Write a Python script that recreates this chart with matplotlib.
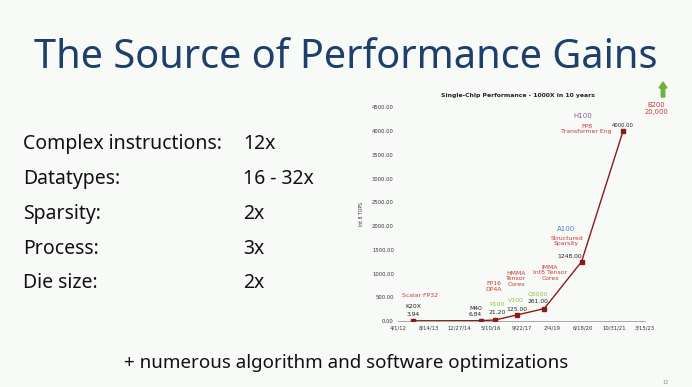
import matplotlib
matplotlib.use("Agg")
from matplotlib import pyplot as plt
import matplotlib.dates as mdates
import pandas as pd

# left-hand list on the slide
gain_names = ["Complex instructions:", "Datatypes:", "Sparsity:", "Process:", "Die size:"]
gain_values = ["12x", "16 - 32x", "2x", "3x", "2x"]

# chart series (Int8 TOPS per chip)
chips = ["K20X", "M40", "P100", "V100", "Q8000", "A100", "H100"]
launch = ["2012-11-29", "2015-11-30", "2016-07-20", "2017-07-05", "2018-09-25", "2020-05-21", "2022-03-25"]
tops = [3.94, 6.84, 21.20, 125.00, 261.00, 1248.00, 4000.00]
value_labels = ["3.94", "6.84", "21.20", "125.00", "261.00", "1248.00", "4000.00"]
feature_labels = ["Scalar FP32", "", "FP16\nDP4A", "HMMA\nTensor\nCores", "IMMA\nInt8 Tensor\nCores",
                  "Structured\nSparsity", "FP8\nTransformer Eng"]
tick_dates = pd.date_range("2012-04-01", periods=9, freq="500D")
y_ticks = list(range(0, 5000, 500))

BG = "#f8faf8"
RED = "#c43a3a"
GREEN = "#8cc43c"
LINE = "#8b1a1a"

fig = plt.figure(figsize=(6.92, 3.87), dpi=100)
fig.patch.set_facecolor(BG)

fig.text(0.5, 1 - 68 / 387, "The Source of Performance Gains", ha="center", va="baseline",
         fontsize=28.6, color="#1e3f6b", family="Noto Sans")

for i, (name, val) in enumerate(zip(gain_names, gain_values)):
    yb = 1 - (149.3 + i * 34.75) / 387
    fig.text(23 / 692, yb, name, ha="left", va="baseline", fontsize=14, color="#111111", family="Noto Sans")
    fig.text(243 / 692, yb, val, ha="left", va="baseline", fontsize=14, color="#111111", family="Noto Sans")

fig.text(0.5, 1 - 368 / 387, "+ numerous algorithm and software optimizations", ha="center", va="baseline",
         fontsize=13.5, color="#111111", family="Noto Sans")
fig.text(666 / 692, 1 - 383 / 387, "12", ha="center", va="center", fontsize=3.5, color="#888888")

# chart
ax = fig.add_axes([398 / 692, 1 - 321 / 387, 247 / 692, 213.7 / 387])
ax.set_facecolor(BG)
x = mdates.date2num(pd.to_datetime(launch))
ax.plot(x, tops, color=LINE, lw=1.0, marker="s", ms=2.2, zorder=3)

xt = mdates.date2num(tick_dates)
ax.set_xlim(xt[0], xt[-1])
ax.set_ylim(0, 4500)
ax.set_xticks(xt)
ax.set_xticklabels([f"{d.month}/{d.day}/{d.year % 100:02d}" for d in tick_dates])
ax.set_yticks(y_ticks)
ax.set_yticklabels([f"{v:.2f}" for v in y_ticks])
ax.tick_params(length=0, labelsize=3.8, labelcolor="#333333", pad=3)
for s in ["top", "right", "left"]:
    ax.spines[s].set_visible(False)
ax.spines["bottom"].set_color("#9a9a9a")
ax.spines["bottom"].set_linewidth(0.6)
ax.set_ylabel("Int 8 TOPS", fontsize=3.3, color="#333333", labelpad=6)

fig.text(518 / 692, 1 - 96 / 387, "Single-Chip Performance - 1000X in 10 years", ha="center", va="center",
         fontsize=4.4, fontweight="bold", color="#222222")

# pixel offsets of labels from their points: value, chip name, feature
val_off = [(0, 6), (-5, 6.4), (1.7, 7.7), (0, 5.8), (-6, 6.9), (-11.7, 5.7), (0, 5.4)]
chip_off = [(0, 14), (-5, 12.4), (1.7, 15.7), (-1, 14.4), (-6, 14.3), (-15, 32.7), (-40, 15.4)]
chip_col = ["#222222", "#222222", GREEN, GREEN, GREEN, "#4a7cc7", "#8e5c9e"]
feat_off = [(7, 25), (0, 0), (-1.3, 33.6), (-0.7, 36.4), (5.7, 35.9), (-15, 20.5), (-36.6, 1.8)]

for i in range(len(chips)):
    pt = (x[i], tops[i])
    vs = 3.8 if i == len(chips) - 1 else 4.3
    ax.annotate(value_labels[i], pt, xytext=val_off[i], textcoords="offset pixels",
                ha="center", va="center", fontsize=vs, color="#222222", annotation_clip=False)
    ax.annotate(chips[i], pt, xytext=chip_off[i], textcoords="offset pixels",
                ha="center", va="center", fontsize=5.0 if i >= 5 else 4.4, color=chip_col[i],
                annotation_clip=False)
    if feature_labels[i]:
        ax.annotate(feature_labels[i], pt, xytext=feat_off[i], textcoords="offset pixels",
                    ha="center", va="center", fontsize=4.4, color=RED, linespacing=1.1,
                    annotation_clip=False)

# B200 off the chart, with arrow
fig.text(656 / 692, 1 - 108.5 / 387, "B200\n20,000", ha="center", va="center", fontsize=4.9,
         color=RED, linespacing=1.05)
fig.patches.append(matplotlib.patches.FancyArrow(663 / 692, 1 - 97 / 387, 0, 15 / 387, width=3.5 / 692,
                                                 head_width=8 / 692, head_length=6 / 387,
                                                 length_includes_head=True, color="#6db33f",
                                                 transform=fig.transFigure))

fig.savefig("out.png", dpi=100, facecolor=BG)
